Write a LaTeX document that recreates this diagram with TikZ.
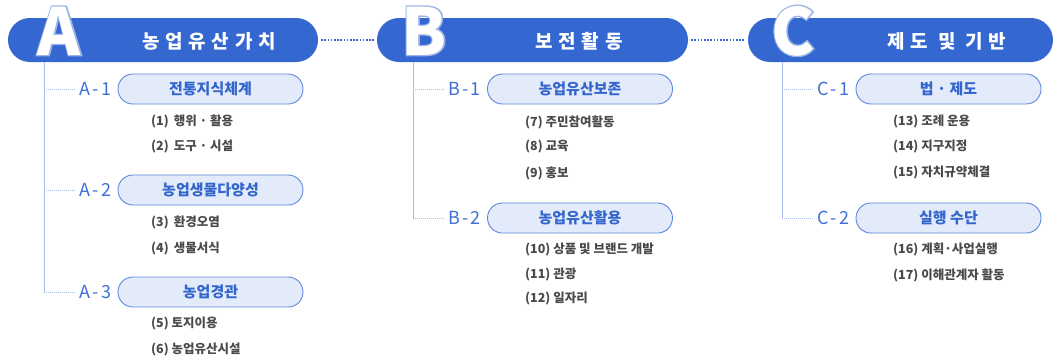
\documentclass[tikz,border=0pt]{standalone}
\usepackage{fontspec}
\setmainfont{Noto Sans CJK KR}
\usetikzlibrary{positioning}

\definecolor{barblue}{HTML}{3467CF}
\definecolor{pillfill}{HTML}{E3EBFB}
\definecolor{pilldraw}{HTML}{5C87DA}
\definecolor{pilltext}{HTML}{3366CC}
\definecolor{tagblue}{HTML}{3F6FD6}
\definecolor{linkblue}{HTML}{A9BFEE}
\definecolor{itemgray}{HTML}{4A4A4A}

\begin{document}
\begin{tikzpicture}[x=1pt, y=-1pt, every node/.style={font=\fontsize{12.5}{14}\selectfont\bfseries},
    bar/.style={fill=barblue, rounded corners=21.9pt, minimum height=44pt, inner sep=0pt},
    bartitle/.style={text=white, font=\fontsize{19}{22}\selectfont\bfseries\addfontfeature{LetterSpace=30}},
    bigletter/.style={anchor=base, inner sep=0pt, text height=48pt, text depth=0pt, font=\fontsize{65}{70}\selectfont\bfseries},
    rim/.style={bigletter, text=barblue!50, font=\fontsize{65}{70}\selectfont\bfseries\addfontfeature{FakeBold=4}},
    pill/.style={draw=pilldraw, fill=pillfill, line width=0.9pt, rounded corners=14.9pt, minimum width=185pt, minimum height=30pt, inner sep=0pt, text=pilltext, font=\fontsize{15}{18}\selectfont\bfseries},
    tag/.style={text=tagblue, inner sep=2pt, font=\fontsize{18}{20}\selectfont\addfontfeature{LetterSpace=12}},
    item/.style={anchor=west, inner sep=0pt, text=itemgray},
    vline/.style={linkblue, line width=1pt},
    tick/.style={linkblue, line width=0.8pt, dash pattern=on 1pt off 1pt, shorten >=2pt},
    link/.style={barblue, line width=1.6pt, dash pattern=on 1.6pt off 1.6pt, shorten <=3pt, shorten >=3pt}]
    \useasboundingbox (0,0) rectangle (1057,357);

    % header bars
    \node[bar, minimum width=310pt] (barA) at (163,40) {};
    \node[bar, minimum width=311pt] (barB) at (532.5,40) {};
    \node[bar, minimum width=305pt] (barC) at (900.5,40) {};
    \draw[link] (barA.east) -- (barB.west);
    \draw[link] (barB.east) -- (barC.west);

    \node[rim] (rimA) at (59,55) {A};
    \node[bigletter, text=white] (capA) at (59,55) {A};
    \node[rim] (rimB) at (424,55) {B};
    \node[bigletter, text=white] (capB) at (424,55) {B};
    \node[rim] (rimC) at (793,55) {C};
    \node[bigletter, text=white] (capC) at (793,55) {C};

    \node[bartitle] (titleA) at (209,41) {농업유산가치};
    \node[bartitle] (titleB) at (579,41) {보전활동};
    \node[bartitle] (titleC) at (947,41) {제도 및 기반};

    % A
    \node[pill] (pA1) at (210.5,89) {전통지식체계};
    \node[pill] (pA2) at (210.5,190) {농업생물다양성};
    \node[pill] (pA3) at (210.5,292) {농업경관};
    \node[tag, left=4pt of pA1] (tA1) {A-1};
    \node[tag, left=4pt of pA2] (tA2) {A-2};
    \node[tag, left=4pt of pA3] (tA3) {A-3};
    \coordinate (vA) at (44,62);
    \draw[vline] (vA) -- (vA |- tA3.west);
    \draw[tick] (vA |- tA1.west) -- (tA1.west);
    \draw[tick] (vA |- tA2.west) -- (tA2.west);
    \draw[tick] (vA |- tA3.west) -- (tA3.west);
    \node[item] (i1) at (151,121) {(1)\, 행위 · 활용};
    \node[item] (i2) at (151,146) {(2)\, 도구 · 시설};
    \node[item] (i3) at (151,222) {(3)\, 환경오염};
    \node[item] (i4) at (151,248) {(4)\, 생물서식};
    \node[item] (i5) at (151,323) {(5) 토지이용};
    \node[item] (i6) at (151,349) {(6) 농업유산시설};

    % B
    \node[pill] (pB1) at (580,89) {농업유산보존};
    \node[pill] (pB2) at (580,218) {농업유산활용};
    \node[tag, left=4pt of pB1] (tB1) {B-1};
    \node[tag, left=4pt of pB2] (tB2) {B-2};
    \coordinate (vB) at (413,62);
    \draw[vline] (vB) -- (vB |- tB2.west);
    \draw[tick] (vB |- tB1.west) -- (tB1.west);
    \draw[tick] (vB |- tB2.west) -- (tB2.west);
    \node[item] (i7) at (525,122) {(7) 주민참여활동};
    \node[item] (i8) at (525,147) {(8) 교육};
    \node[item] (i9) at (525,173) {(9) 홍보};
    \node[item] (i10) at (525,249) {(10) 상품 및 브랜드 개발};
    \node[item] (i11) at (525,274) {(11) 관광};
    \node[item] (i12) at (525,298) {(12) 일자리};

    % C
    \node[pill] (pC1) at (948.5,89) {법 · 제도};
    \node[pill] (pC2) at (948.5,218) {실행 수단};
    \node[tag, left=4pt of pC1] (tC1) {C-1};
    \node[tag, left=4pt of pC2] (tC2) {C-2};
    \coordinate (vC) at (782,62);
    \draw[vline] (vC) -- (vC |- tC2.west);
    \draw[tick] (vC |- tC1.west) -- (tC1.west);
    \draw[tick] (vC |- tC2.west) -- (tC2.west);
    \node[item] (i13) at (893,122) {(13) 조례 운용};
    \node[item] (i14) at (893,147) {(14) 지구지정};
    \node[item] (i15) at (893,172) {(15) 자치규약체결};
    \node[item] (i16) at (893,249) {(16) 계획·사업실행};
    \node[item] (i17) at (893,275) {(17) 이해관계자 활동};
\end{tikzpicture}
\end{document}
